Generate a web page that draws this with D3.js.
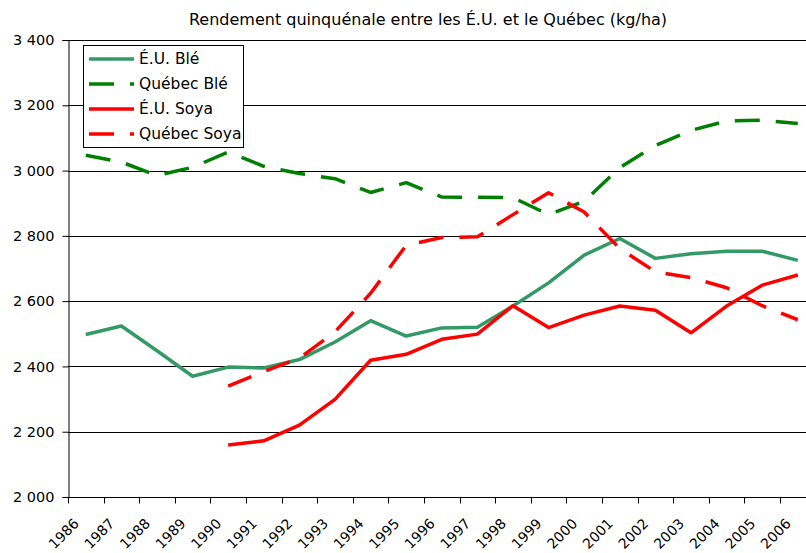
<!DOCTYPE html>
<head>
<meta charset="utf-8">
<style>
body { margin: 0; background: #fff; }
svg { display: block; }
.title { font: 16px "DejaVu Sans", Verdana, sans-serif; text-anchor: middle; }
.axis text { font: 14.5px "DejaVu Sans", Verdana, sans-serif; fill: #000; }
.axis .yr { font-size: 14px; }
.axis path, .axis line { stroke: #000; }
.grid line { stroke: #000; stroke-width: 1px; shape-rendering: crispEdges; }
.legend text { font: 15.5px "DejaVu Sans", Verdana, sans-serif; }
.serie { fill: none; stroke-width: 3.5px; stroke-linejoin: round; }
</style>
</head>
<body>
<svg width="806" height="553"></svg>
<script src="https://d3js.org/d3.v7.min.js"></script>
<script>
// yields (kg/ha), one value per year, null = no data
var years = ["1986","1987","1988","1989","1990","1991","1992","1993","1994","1995","1996",
             "1997","1998","1999","2000","2001","2002","2003","2004","2005","2006"];
var usBle = [2498, 2524, 2448, 2370, 2398, 2395, 2421, 2475, 2540, 2493, 2518,
             2520, 2585, 2656, 2741, 2792, 2731, 2745, 2753, 2753, 2725];
var quebecBle = [3047, 3026, 2985, 3010, 3057, 3013, 2991, 2975, 2933, 2963, 2919,
                 2918, 2917, 2865, 2906, 3009, 3077, 3123, 3152, 3154, 3144];
var usSoya = [null, null, null, null, 2159, 2172, 2220, 2299, 2419, 2437, 2483,
              2499, 2586, 2519, 2557, 2585, 2572, 2503, 2585, 2649, 2680];
var quebecSoya = [null, null, null, null, 2340, 2384, 2425, 2506, 2624, 2771, 2795,
                  2797, 2865, 2932, 2873, 2761, 2690, 2672, 2641, 2586, 2543];
var yTicks = [2000, 2200, 2400, 2600, 2800, 3000, 3200, 3400];
var seriesNames = ["É.U. Blé", "Québec Blé", "É.U. Soya", "Québec Soya"];

var series = [
  {name: seriesNames[0], values: usBle, color: "#339966", dash: null},
  {name: seriesNames[1], values: quebecBle, color: "#008000", dash: "25,16"},
  {name: seriesNames[2], values: usSoya, color: "#ff0000", dash: null},
  {name: seriesNames[3], values: quebecSoya, color: "#ff0000", dash: "25,16"}
];

var svg = d3.select("svg"),
    plotLeft = 68, plotTop = 40, plotBottom = 497, step = 35.6;

var x = d3.scaleBand().domain(years).range([plotLeft, plotLeft + step * years.length]);
var y = d3.scaleLinear().domain([2000, 3400]).range([plotBottom, plotTop]);

svg.append("text").attr("class", "title")
    .attr("x", 428).attr("y", 25)
    .text("Rendement quinquénale entre les É.U. et le Québec (kg/ha)");

// horizontal grid
svg.append("g").attr("class", "grid")
  .selectAll("line").data(yTicks.slice(1)).enter().append("line")
    .attr("x1", plotLeft).attr("x2", 806)
    .attr("y1", function(d) { return Math.round(y(d)) + 0.5; })
    .attr("y2", function(d) { return Math.round(y(d)) + 0.5; });

// y axis
var fmt = function(d) { return d3.format(",")(d).replace(",", " "); };
svg.append("g").attr("class", "axis")
    .attr("transform", "translate(" + (plotLeft + 0.5) + ",0)")
    .call(d3.axisLeft(y).tickValues(yTicks).tickSize(6).tickPadding(8).tickFormat(fmt));

// x axis: ticks on the category boundaries, labels slanted
var xAxis = svg.append("g").attr("class", "axis")
    .attr("transform", "translate(0," + (plotBottom + 0.5) + ")");
xAxis.append("line").attr("x1", plotLeft).attr("x2", 806).attr("stroke", "#000");
xAxis.selectAll(".tk").data(years).enter().append("line")
    .attr("class", "tk")
    .attr("x1", function(d) { return Math.round(x(d)) + 0.5; })
    .attr("x2", function(d) { return Math.round(x(d)) + 0.5; })
    .attr("y1", 0).attr("y2", 6);
xAxis.selectAll(".yr").data(years).enter().append("text")
    .attr("class", "yr")
    .attr("text-anchor", "end")
    .attr("transform", function(d) {
      return "translate(" + (x(d) + x.bandwidth() / 2 - 6) + ",27) rotate(-45)";
    })
    .text(function(d) { return d; });

// lines
var line = d3.line()
    .defined(function(d) { return d != null; })
    .x(function(d, i) { return x(years[i]) + x.bandwidth() / 2; })
    .y(function(d) { return y(d); });

svg.selectAll(".serie").data(series).enter().append("path")
    .attr("class", "serie")
    .attr("stroke", function(d) { return d.color; })
    .attr("stroke-dasharray", function(d) { return d.dash; })
    .attr("d", function(d) { return line(d.values); });

// legend
var lg = svg.append("g").attr("class", "legend");
lg.append("rect").attr("x", 83.5).attr("y", 45.5).attr("width", 160).attr("height", 102)
    .attr("fill", "#fff").attr("stroke", "#000");
var item = lg.selectAll(".item").data(series).enter().append("g")
    .attr("transform", function(d, i) { return "translate(0," + (59 + i * 25) + ")"; });
item.append("line").attr("x1", 89).attr("x2", 134)
    .attr("stroke", function(d) { return d.color; })
    .attr("stroke-width", 3.5)
    .attr("stroke-dasharray", function(d) { return d.dash; });
item.append("text").attr("x", 139).attr("dy", "0.35em")
    .text(function(d) { return d.name; });
</script>
</body>
